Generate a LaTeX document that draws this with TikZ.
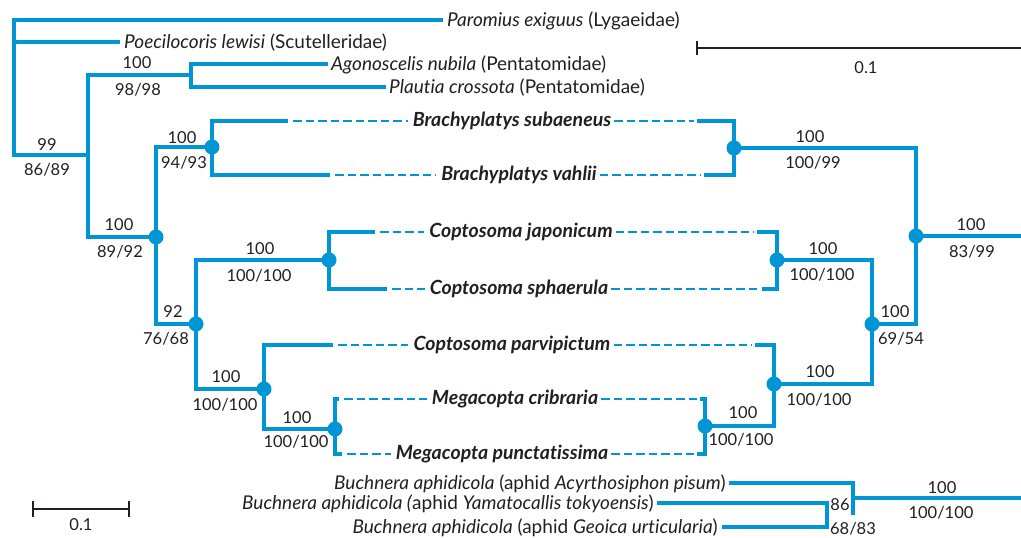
\documentclass[tikz,border=0pt]{standalone}
\usepackage{fontspec}
\usetikzlibrary{calc}
\setmainfont{Lato}[Ligatures={NoCommon}]
\definecolor{treeblue}{RGB}{0,150,214}
\definecolor{inkgrey}{RGB}{35,31,32}
\tikzset{
  branch/.style={draw=treeblue, line width=3.8pt, line join=miter},
  dashlink/.style={draw=treeblue, line width=1.9pt, dash pattern=on 8.5pt off 4pt, shorten <=5pt, shorten >=3pt},
  knot/.style={circle, fill=treeblue, inner sep=0pt, minimum size=15pt},
  support/.style={font=\fontsize{16.5}{18}\selectfont, text=inkgrey, inner sep=0pt},
  taxon/.style={font=\fontsize{19}{22}\selectfont, text=inkgrey, inner sep=0pt},
  boldtaxon/.style={font=\fontsize{19.5}{22}\selectfont\bfseries\itshape, text=inkgrey, inner sep=2pt, anchor=base},
  scalebar/.style={draw=inkgrey, line width=2pt},
}
\begin{document}
\begin{tikzpicture}[x=1pt, y=-1pt]
\useasboundingbox (0,0) rectangle (1021,538);

% ---------- host tree (left) ----------
\coordinate (r0) at (14,155);
\coordinate (n1) at (88,155);
\coordinate (nP) at (191,75);
\coordinate (n2) at (156,237);
\coordinate (nB) at (212,147);
\coordinate (n3) at (196,324);
\coordinate (nC) at (329,260);
\coordinate (n4) at (264,389);
\coordinate (nM) at (335,429);

% leaf ends of the outgroup taxa
\coordinate (tPar) at (443,20);
\coordinate (tPoe) at (120,42);
\coordinate (tPoeBase) at (14,42);
\coordinate (tAgo) at (328,64);
\coordinate (tPla) at (386,87);

% solid stubs of the plataspid taxa (host side)
\coordinate (sB1) at (288,121);
\coordinate (sB2) at (330,175);
\coordinate (sC1) at (375,232);
\coordinate (sC2) at (387,289);
\coordinate (sC3) at (333,345);
\coordinate (sM1) at (339,399);
\coordinate (sM2) at (342,454);

\draw[branch] (tPar) -| (r0) -- (n1);
\draw[branch] (tPoeBase) -- (tPoe);
\draw[branch] (nP) -| (n1) |- (n2);
\draw[branch] (tAgo) -| (nP) |- (tPla);
\draw[branch] (nB) -| (n2) |- (n3);
\draw[branch] (sB1) -| (nB) |- (sB2);
\draw[branch] (nC) -| (n3) |- (n4);
\draw[branch] (sC1) -| (nC) |- (sC2);
\draw[branch] (sC3) -| (n4) |- (nM);
\draw[branch] (sM1) -| (nM) |- (sM2);

% ---------- symbiont tree (right) ----------
\coordinate (mB) at (734,148);
\coordinate (m2) at (916,236);
\coordinate (m3) at (872,324);
\coordinate (mC) at (777,260);
\coordinate (m4) at (774,384);
\coordinate (mM) at (705,426);
\coordinate (mRoot) at (1021,236);

\coordinate (eB1) at (697,121);
\coordinate (eB2) at (704,175);
\coordinate (eC1) at (757,232);
\coordinate (eC2) at (762,289);
\coordinate (eC3) at (755,345);
\coordinate (eM1) at (700,399);
\coordinate (eM2) at (697,454);

\draw[branch] (eB1) -| (mB) |- (eB2);
\draw[branch] (mB) -| (m2) |- (m3);
\draw[branch] (m2) -- (mRoot);
\draw[branch] (mC) -| (m3) |- (m4);
\draw[branch] (eC1) -| (mC) |- (eC2);
\draw[branch] (eC3) -| (m4) |- (mM);
\draw[branch] (eM1) -| (mM) |- (eM2);

% ---------- Buchnera outgroup ----------
\coordinate (b1) at (853,498);
\coordinate (b1low) at (853,515);
\coordinate (b2) at (827,515);
\coordinate (bRoot) at (1021,498);
\coordinate (tAcy) at (729,483);
\coordinate (tYam) at (657,503);
\coordinate (tGeo) at (722,527);
\draw[branch] (tAcy) -| (b1low);
\draw[branch] (b1) -- (bRoot);
\draw[branch] (tYam) -| (b2) |- (tGeo);

% ---------- plataspid taxa with dashed links ----------
\node[boldtaxon] (lB1) at (512,126) {Brachyplatys subaeneus};
\node[boldtaxon] (lB2) at (519,180) {Brachyplatys vahlii};
\node[boldtaxon] (lC1) at (521,237) {Coptosoma japonicum};
\node[boldtaxon] (lC2) at (519,294) {Coptosoma sphaerula};
\node[boldtaxon] (lC3) at (512,350) {Coptosoma parvipictum};
\node[boldtaxon] (lM1) at (515,404) {Megacopta cribraria};
\node[boldtaxon] (lM2) at (502,459) {Megacopta punctatissima};

\foreach \s/\l/\e in {sB1/lB1/eB1, sB2/lB2/eB2, sC1/lC1/eC1, sC2/lC2/eC2,
                      sC3/lC3/eC3, sM1/lM1/eM1, sM2/lM2/eM2}{
  \draw[dashlink] (\s) -- (\s -| \l.west);
  \draw[dashlink, shorten <=1pt] (\l.east |- \e) -- (\e);
}

% ---------- dots on the co-speciation nodes ----------
\foreach \k in {n2, nB, n3, nC, n4, nM, mB, m2, m3, mC, m4, mM}{
  \node[knot] at (\k) {};
}

% ---------- outgroup taxon names ----------
\node[taxon, anchor=base west] (lPar) at (447,26) {\textit{Paromius exiguus} (Lygaeidae)};
\node[taxon, anchor=base west] (lPoe) at (124,48) {\textit{Poecilocoris lewisi} (Scutelleridae)};
\node[taxon, anchor=base west] (lAgo) at (331,70) {\textit{Agonoscelis nubila} (Pentatomidae)};
\node[taxon, anchor=base west] (lPla) at (389,93) {\textit{Plautia crossota} (Pentatomidae)};
\node[taxon, anchor=base east] (lAcy) at (726,489) {\textit{Buchnera aphidicola} (aphid \textit{Acyrthosiphon pisum})};
\node[taxon, anchor=base east] (lYam) at (654,509) {\textit{Buchnera aphidicola (}aphid \textit{Yamatocallis tokyoensis})};
\node[taxon, anchor=base east] (lGeo) at (718,533) {\textit{Buchnera aphidicola} (aphid \textit{Geoica urticularia})};

% ---------- support values ----------
\node[support] (v1a) at (47,145) {99};
\node[support] (v1b) at (47,170) {86/89};
\node[support] (vPa) at (137,63) {100};
\node[support] (vPb) at (138,90) {98/98};
\node[support] (vBa) at (182,138) {100};
\node[support] (vBb) at (184,163) {94/93};
\node[support] (v2a) at (119,225) {100};
\node[support] (v2b) at (120,252) {89/92};
\node[support] (vCa) at (260,249) {100};
\node[support] (vCb) at (259,276) {100/100};
\node[support] (v3a) at (173,312) {92};
\node[support] (v3b) at (166,339) {76/68};
\node[support] (v4a) at (226,377) {100};
\node[support] (v4b) at (225,405) {100/100};
\node[support] (vMa) at (297,418) {100};
\node[support] (vMb) at (296,442) {100/100};

\node[support] (wBa) at (810,137) {100};
\node[support] (wBb) at (813,163) {100/99};
\node[support] (w2a) at (971,225) {100};
\node[support] (w2b) at (972,252) {83/99};
\node[support] (wCa) at (823,249) {100};
\node[support] (wCb) at (822,275) {100/100};
\node[support] (w3a) at (895,312) {100};
\node[support] (w3b) at (901,339) {69/54};
\node[support] (w4a) at (820,372) {100};
\node[support] (w4b) at (819,400) {100/100};
\node[support] (wMa) at (743,413) {100};
\node[support] (wMb) at (741,440) {100/100};

\node[support] (uAa) at (942,488) {100};
\node[support] (uAb) at (941,513) {100/100};
\node[support] (uBa) at (840,505) {86};
\node[support] (uBb) at (853,529) {68/83};

% ---------- scale bars ----------
\coordinate (sbL1) at (33,509);
\coordinate (sbL2) at (129,509);
\draw[scalebar] (sbL1) -- (sbL2);
\draw[scalebar] ($(sbL1)+(0,-8)$) -- ($(sbL1)+(0,8)$);
\draw[scalebar] ($(sbL2)+(0,-8)$) -- ($(sbL2)+(0,8)$);
\node[support] (sbLt) at (81,525) {0.1};

\coordinate (sbR1) at (697,48);
\coordinate (sbR2) at (1021,48);
\draw[scalebar] (sbR1) -- (sbR2);
\draw[scalebar] ($(sbR1)+(0,-7)$) -- ($(sbR1)+(0,7)$);
\node[support] (sbRt) at (866,68) {0.1};
\end{tikzpicture}
\end{document}
